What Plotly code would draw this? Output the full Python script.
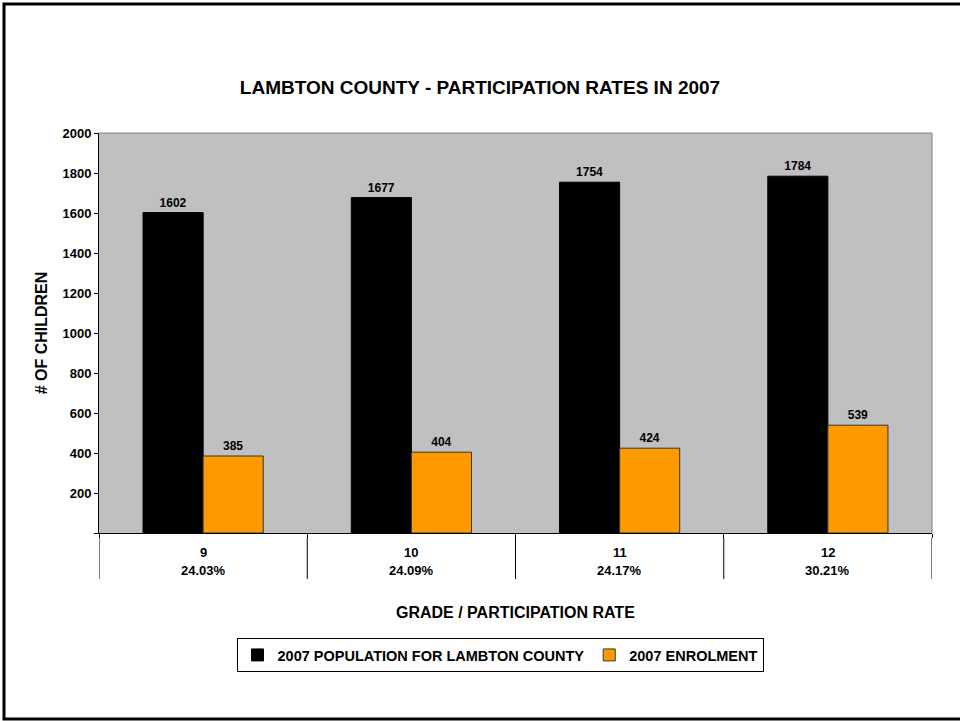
import plotly.graph_objects as go

grades = ["9", "10", "11", "12"]
rates = ["24.03%", "24.09%", "24.17%", "30.21%"]
population = [1602, 1677, 1754, 1784]
enrolment = [385, 404, 424, 539]
series_names = ["2007 POPULATION FOR LAMBTON COUNTY", "2007 ENROLMENT"]
y_ticks = [0, 200, 400, 600, 800, 1000, 1200, 1400, 1600, 1800, 2000]

FONT = "Liberation Sans, Arial, sans-serif"
idx = list(range(len(grades)))

fig = go.Figure()
fig.add_trace(go.Bar(
    x=idx, y=population, name=series_names[0],
    marker=dict(color="#000000", line=dict(color="#000000", width=1)),
    text=[str(v) for v in population], textposition="outside", constraintext="none",
    textfont=dict(family=FONT, size=12, color="#000000", weight="bold"),
    cliponaxis=False,
))
fig.add_trace(go.Bar(
    x=idx, y=enrolment, name=series_names[1],
    marker=dict(color="#FF9900", line=dict(color="#333333", width=1)),
    text=[str(v) for v in enrolment], textposition="outside", constraintext="none",
    textfont=dict(family=FONT, size=12, color="#000000", weight="bold"),
    cliponaxis=False,
))

annotations = []
for i, (g, r) in enumerate(zip(grades, rates)):
    annotations.append(dict(x=i, y=0, xref="x", yref="y", text=g, showarrow=False,
                            yshift=-19, font=dict(family=FONT, size=13, color="#000", weight="bold")))
    annotations.append(dict(x=i, y=0, xref="x", yref="y", text=r, showarrow=False,
                            yshift=-37, font=dict(family=FONT, size=13, color="#000", weight="bold")))
annotations.append(dict(x=0.5, y=-(612 - 533) / 400, xref="paper", yref="paper",
                        text="GRADE / PARTICIPATION RATE",
                        showarrow=False, yanchor="middle",
                        font=dict(family=FONT, size=16, color="#000", weight="bold")))

shapes = []
# category divider lines below the axis
for i in range(len(grades) + 1):
    shapes.append(dict(type="line", xref="x", yref="paper", x0=i - 0.5, x1=i - 0.5,
                       y0=-0.0125, y1=-0.115, line=dict(color="#000000", width=1)))
# outer chart border (right edge falls outside the page)
shapes.append(dict(type="rect", xref="paper", yref="paper",
                   x0=-95 / 833, x1=1 + 34 / 833, y0=-186 / 400, y1=1 + 129 / 400,
                   line=dict(color="#000000", width=3), layer="above"))
# plot area border (gray top and right)
shapes.append(dict(type="line", xref="paper", yref="paper", x0=0, x1=1, y0=1, y1=1,
                   line=dict(color="#808080", width=1)))
shapes.append(dict(type="line", xref="paper", yref="paper", x0=1, x1=1, y0=0, y1=1,
                   line=dict(color="#808080", width=1)))

fig.update_layout(
    width=960, height=721,
    margin=dict(l=99, r=28, t=133, b=188),
    paper_bgcolor="#FFFFFF", plot_bgcolor="#C0C0C0",
    barmode="group", bargap=0.423, bargroupgap=0,
    title=dict(text="LAMBTON COUNTY - PARTICIPATION RATES IN 2007", x=0.5, xanchor="center",
               y=1 - 87 / 721, yanchor="middle",
               font=dict(family=FONT, size=19, color="#000", weight="bold")),
    xaxis=dict(range=[-0.5, len(grades) - 0.5], tickmode="array",
               tickvals=[i - 0.5 for i in range(len(grades) + 1)],
               showticklabels=False, ticks="outside",
               ticklen=4, tickcolor="#000", showline=True, linecolor="#000", linewidth=1,
               showgrid=False, zeroline=False),
    yaxis=dict(range=[0, 2000], tickmode="array", tickvals=y_ticks,
               ticktext=["" if v == 0 else str(v) for v in y_ticks],
               ticks="outside", ticklen=4, tickcolor="#000", showline=True, linecolor="#000",
               linewidth=1, showgrid=False, zeroline=False,
               tickfont=dict(family=FONT, size=13, color="#000", weight="bold"),
               title=dict(text="# OF CHILDREN", standoff=10,
                          font=dict(family=FONT, size=16, color="#000", weight="bold"))),
    legend=dict(orientation="h", x=(500 - 99) / 833, xanchor="center", y=-(655 - 533) / 400,
                yanchor="middle",
                bordercolor="#000", borderwidth=1, bgcolor="#FFFFFF",
                font=dict(family=FONT, size=14.5, color="#000", weight="bold"),
                itemwidth=30, traceorder="normal"),
    annotations=annotations, shapes=shapes,
    showlegend=True,
)

fig.write_html("out.html")
